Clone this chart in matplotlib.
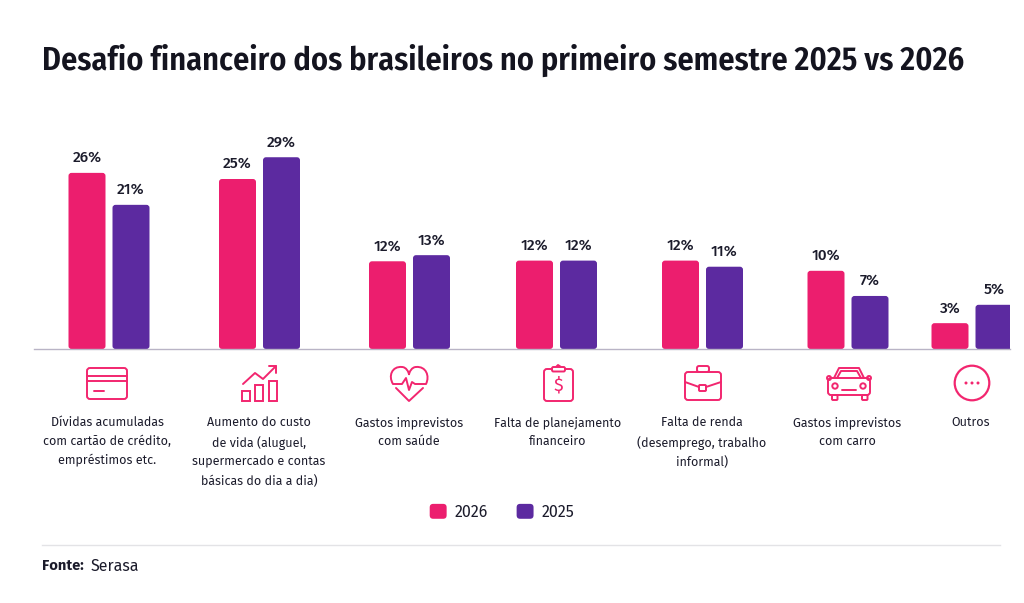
import matplotlib
matplotlib.use("Agg")
import matplotlib.pyplot as plt
from matplotlib.patches import FancyBboxPatch, Rectangle, Circle, PathPatch
from matplotlib.path import Path
from matplotlib.legend_handler import HandlerPatch

# ---- data ----
categories = [
    "Dívidas acumuladas\ncom cartão de crédito,\nempréstimos etc.",
    "Aumento do custo\nde vida (aluguel,\nsupermercado e contas\nbásicas do dia a dia)",
    "Gastos imprevistos\ncom saúde",
    "Falta de planejamento\nfinanceiro",
    "Falta de renda\n(desemprego, trabalho\ninformal)",
    "Gastos imprevistos\ncom carro",
    "Outros",
]
labels_2026 = ["26%", "25%", "12%", "12%", "12%", "10%", "3%"]
labels_2025 = ["21%", "29%", "13%", "12%", "11%", "7%", "5%"]
# bar lengths as drawn in the picture (they are not strictly proportional to the labels)
heights_2026 = [25.9, 25.0, 12.9, 13.0, 13.0, 11.5, 3.8]
heights_2025 = [21.2, 28.2, 13.8, 13.0, 12.1, 7.8, 6.5]
group_positions = [109, 259.5, 409.5, 556.5, 702.5, 848, 972]
label_positions = [107, 259, 409, 558, 702, 847, 971]

PINK = "#EC1E6E"
ICON = "#F2266F"
PURPLE = "#5C2AA0"
INK = "#1B1B2B"
BASE = "#B9B4C6"
BODY = ["Fira Sans", "Noto Sans", "DejaVu Sans"]
NARROW = ["Fira Sans Condensed", "Roboto Condensed", "Barlow Condensed", "Roboto", "DejaVu Sans"]

W, H = 1024, 603
fig = plt.figure(figsize=(W / 100, H / 100), dpi=100, facecolor="white")
PX_PER_UNIT = 6.8
ax_top, ax_base = 110, 349
ax = fig.add_axes([34 / W, 1 - ax_base / H, (1010 - 34) / W, (ax_base - ax_top) / H])
ax.set_xlim(34, 1010)
ax.set_ylim(0, (ax_base - ax_top) / PX_PER_UNIT)
ax.patch.set_visible(False)
for s in ("top", "left", "right"):
    ax.spines[s].set_visible(False)
ax.spines["bottom"].set_color(BASE)
ax.spines["bottom"].set_linewidth(1.0)
ax.set_yticks([])
ax.set_xticks(label_positions)
ax.set_xticklabels(categories, fontsize=9.0, family=BODY, color=INK, linespacing=1.62)
ax.tick_params(axis="x", length=0, pad=48.5)


def rounded_bars(offset, heights, labels, color, name):
    bars = ax.bar([p + offset for p in group_positions], heights, width=37, color=color, label=name)
    for rect, text in zip(bars, labels):
        x, w, h = rect.get_x(), rect.get_width(), rect.get_height()
        rect.set_visible(False)
        ax.add_patch(FancyBboxPatch((x, 0), w, h, boxstyle="round,pad=0,rounding_size=3",
                                    mutation_aspect=1 / PX_PER_UNIT, fc=color, ec="none", zorder=2))
        ax.annotate(text, (x + w / 2, h), xytext=(0, 10.8), textcoords="offset points",
                    ha="center", va="center", fontsize=11, fontweight=500,
                    family=BODY, color=INK)
    return bars


b26 = rounded_bars(-22, heights_2026, labels_2026, PINK, "2026")
b25 = rounded_bars(22, heights_2025, labels_2025, PURPLE, "2025")

# overlay in figure pixels for the title, rule and pictograms
ov = fig.add_axes([0, 0, 1, 1])
ov.set_xlim(0, W)
ov.set_ylim(H, 0)
ov.axis("off")
ov.patch.set_visible(False)

ov.text(42, 60, "Desafio financeiro dos brasileiros no primeiro semestre 2025 vs 2026",
        fontsize=23.2, fontweight=600, family=NARROW, color="#14141F", va="center", ha="left")
ov.plot([42, 1000], [545, 545], color="#E3E3E6", lw=1)
ov.text(42, 566, "Fonte:", fontsize=10.6, fontweight="bold", family=BODY, color=INK, va="center")
ov.text(91, 566, "Serasa", fontsize=11.5, family=BODY, color=INK, va="center")


class RoundHandler(HandlerPatch):
    def create_artists(self, legend, orig, xd, yd, width, height, fontsize, trans):
        p = FancyBboxPatch((-xd, -yd), width, height, boxstyle="round,pad=0,rounding_size=2.5",
                           fc=orig.get_facecolor(), ec="none", transform=trans)
        return [p]


leg = ov.legend(handles=[b26[0], b25[0]], labels=["2026", "2025"], ncol=2, frameon=False,
                loc="center", bbox_to_anchor=(502 / W, 1 - 512 / H),
                bbox_transform=fig.transFigure,
                prop={"family": BODY, "size": 11.5}, handlelength=1.06, handleheight=1.06,
                handletextpad=0.5, columnspacing=1.8, labelcolor=INK,
                handler_map={b26[0]: RoundHandler(), b25[0]: RoundHandler(),
                             type(b26): RoundHandler()})
for h_ in leg.legend_handles:
    h_.set_visible(True)

LW = 1.4
kw = dict(color=ICON, lw=LW, solid_capstyle="round", solid_joinstyle="round")


def rbox(x0, y0, x1, y1, r=3):
    ov.add_patch(FancyBboxPatch((x0, y0), x1 - x0, y1 - y0, boxstyle=f"round,pad=0,rounding_size={r}",
                                fc="none", ec=ICON, lw=LW))


def pl(*pts):
    ov.plot([p[0] for p in pts], [p[1] for p in pts], **kw)


# card
rbox(87, 368, 127, 399, 3)
pl((87, 376), (127, 376))
pl((87, 381), (127, 381))
pl((94, 391), (104, 391))
# growth
for x0, x1, y0 in [(242, 250, 391), (255, 263, 385), (269, 277, 381)]:
    ov.add_patch(Rectangle((x0, y0), x1 - x0, 401 - y0, fc="none", ec=ICON, lw=LW))
pl((243, 384), (255, 373), (263, 379), (276, 366))
pl((269, 366), (276, 366), (276, 373))
# heart
heart_top = Path([(393, 384), (388, 376), (392, 366), (402, 367), (406, 367), (409, 372), (409, 375),
                  (409, 372), (412, 367), (416, 367), (426, 366), (430, 376), (426, 384)],
                 [Path.MOVETO] + [Path.CURVE4] * 12)
ov.add_patch(PathPatch(heart_top, fc="none", ec=ICON, lw=LW))
pl((393, 384), (402, 384), (406, 378), (409, 390), (412, 382), (415, 384), (426, 384))
pl((396, 388), (409, 401), (423, 388))
# clipboard
rbox(544, 369, 573, 401, 3)
ov.add_patch(FancyBboxPatch((552, 367), 13, 4.5, boxstyle="round,pad=0,rounding_size=1.5",
                            fc="white", ec=ICON, lw=LW, zorder=3))
pl((556, 367), (558, 365), (561, 367))
ov.text(558.5, 385, "$", fontsize=13, fontweight="normal", family=BODY, color=ICON, ha="center", va="center")
# briefcase
rbox(685, 372, 721, 400, 3)
rbox(697, 366, 709, 372, 2)
pl((685, 382), (699, 387))
pl((706, 387), (721, 382))
rbox(699, 385, 706, 391, 1)
# car
rbox(828, 378, 870, 395, 3)
pl((834, 378), (839, 368), (859, 368), (864, 378))
pl((837, 378), (841, 371), (857, 371), (861, 378))
for x0 in (832, 862):
    rbox(x0, 395, x0 + 5.5, 400, 1)
for cx in (835, 863):
    ov.add_patch(Circle((cx, 386), 2.7, fc="none", ec=ICON, lw=LW))
pl((842, 390), (856, 390))
for cx in (829, 869):
    ov.add_patch(Circle((cx, 378), 2, fc="none", ec=ICON, lw=LW))
# other
ov.add_patch(Circle((972, 383), 17.3, fc="none", ec=ICON, lw=LW + 0.2))
for cx in (966, 972, 978):
    ov.add_patch(Circle((cx, 383), 1.5, fc=ICON, ec="none"))

fig.savefig("out.png", dpi=100, facecolor="white")
